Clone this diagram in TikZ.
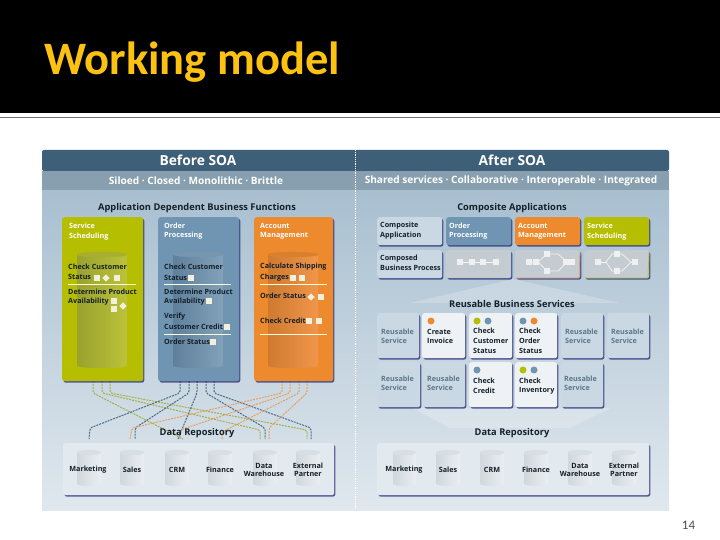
\documentclass[tikz,border=0pt]{standalone}
\usepackage{fontspec}
\setmainfont{Carlito}
\newfontfamily\dia{Open Sans}
\usetikzlibrary{shadows}
\definecolor{hdr}{HTML}{3D5F78}
\definecolor{sub}{HTML}{879FAE}
\definecolor{pantop}{HTML}{A8BFD0}
\definecolor{panbot}{HTML}{E0E8EE}
\definecolor{grn}{HTML}{B5BE00}
\definecolor{blu}{HTML}{6F95B2}
\definecolor{org}{HTML}{EE8A2E}
\definecolor{pale}{HTML}{C9D8E3}
\definecolor{paler}{HTML}{EEF2F5}
\definecolor{repo}{HTML}{E3EAEF}
\definecolor{proc}{HTML}{C4CCD2}
\definecolor{ink}{HTML}{14202A}
\definecolor{cg}{HTML}{A3B04A}
\definecolor{cb}{HTML}{4A6A84}
\definecolor{co}{HTML}{E8A060}
\definecolor{markc}{HTML}{F0F0DC}
\definecolor{cyga}{HTML}{99A22E}\definecolor{cygb}{HTML}{BCC23A}\definecolor{cygt}{HTML}{A7AE30}
\definecolor{cyba}{HTML}{5F7F9B}\definecolor{cybb}{HTML}{82A2BA}\definecolor{cybt}{HTML}{7795AC}
\definecolor{cyoa}{HTML}{CF7A30}\definecolor{cyob}{HTML}{F0964A}\definecolor{cyot}{HTML}{D9802F}
\definecolor{cyra}{HTML}{D0D8DD}\definecolor{cyrb}{HTML}{EAEEF1}\definecolor{cyrt}{HTML}{D8DFE4}
\newcounter{tn}
\tikzset{
  x=1pt,y=-1pt,
  box/.style={draw=none,rounded corners=2.5pt,anchor=north west,inner sep=0pt,
    drop shadow={shadow xshift=1.2pt,shadow yshift=-1.5pt,fill=black!65!blue,opacity=.6}},
  lab/.style={anchor=west,inner sep=0pt,font=\dia\bfseries\fontsize{7.2}{8}\selectfont,text=ink},
  wlab/.style={lab,text=white},
  glab/.style={lab,text=hdr!85!white,font=\dia\fontsize{7.2}{8}\selectfont\bfseries},
  head/.style={anchor=center,inner sep=0pt,font=\dia\bfseries\fontsize{9.3}{11}\selectfont,text=ink},
  bighead/.style={anchor=center,inner sep=0pt,text=white,font=\dia\bfseries\fontsize{13.8}{16}\selectfont},
  subhead/.style={anchor=center,inner sep=0pt,text=white,font=\dia\bfseries\fontsize{10.1}{12}\selectfont},
  ctr/.style={lab,anchor=center,align=center},
  conng/.style={draw=cg,dash pattern=on 2pt off 1pt,line width=1pt,rounded corners=2pt},
  connb/.style={draw=cb,dash pattern=on 2pt off 1pt,line width=1pt,rounded corners=2pt},
  conno/.style={draw=co,dash pattern=on 2pt off 1pt,line width=1pt,rounded corners=2pt},
  sq/.style={fill=markc,draw=none,minimum size=5.8pt,inner sep=0pt,anchor=center},
  dmd/.style={fill=markc,draw=none,minimum size=5.2pt,inner sep=0pt,anchor=center,rotate=45},
  rule/.style={white!85!yellow,line width=.7pt},
  dot/.style={circle,minimum size=7pt,inner sep=0pt,draw=none,anchor=center},
  wire/.style={draw=white!92!gray,line width=.7pt},
  glyph/.style={fill=white!88!gray,draw=none,minimum size=5.5pt,inner sep=0pt,anchor=center},
}
\newcommand\bx[6]{\node[box,fill=#6,minimum width=#4 pt-#2 pt,minimum height=#5 pt-#3 pt] (#1) at (#2,#3) {};}
\newcommand\lb[4][lab]{\stepcounter{tn}\node[#1] (t\thetn) at (#2,#3) {#4};}
\newcommand\mk[3][sq]{\stepcounter{tn}\node[#1] (t\thetn) at (#2,#3) {};}
\newcommand\cyl[7]{%
  \path[left color=#5,right color=#6] (#1,#3+3.5) -- (#1,#4-3.5)
    .. controls (#1,#4) and (#2,#4) .. (#2,#4-3.5) -- (#2,#3+3.5)
    .. controls (#2,#3+7) and (#1,#3+7) .. (#1,#3+3.5) -- cycle;
  \path[fill=#7] (#1,#3+3.5) .. controls (#1,#3) and (#2,#3) .. (#2,#3+3.5)
    .. controls (#2,#3+7) and (#1,#3+7) .. (#1,#3+3.5) -- cycle;}
\begin{document}
\begin{tikzpicture}
\useasboundingbox (0,0) rectangle (720,540);
\fill[white] (0,0) rectangle (720,540);
\fill[black] (0,0) rectangle (720,113);
\draw[black!55,line width=.9pt] (0,117) -- (720,117);
\node[anchor=west,inner sep=0pt,text={rgb,255:red,253;green,194;blue,17},font=\bfseries\fontsize{46.5}{50}\selectfont] (title) at (44,62) {Working model};
\node[anchor=center,inner sep=0pt,text=black!70,font=\fontsize{13}{15}\selectfont] (pageno) at (688.5,525) {14};
% panel
\path[top color=pantop,bottom color=panbot] (42,190) rectangle (669,510);
\fill[hdr,rounded corners=2pt] (42,171) -- (42,150) -- (669,150) -- (669,171) -- cycle;
\fill[sub] (42,171) rectangle (669,190);
\draw[white,densely dotted,line width=.8pt] (355,150) -- (355,510);
\node[bighead] (before) at (198,160.5) {Before SOA};
\node[bighead] (after) at (512,160.5) {After SOA};
\node[subhead] (subl) at (196,181) {Siloed · Closed · Monolithic · Brittle};
\node[subhead] (subr) at (511,181) {Shared services · Collaborative · Interoperable · Integrated};
% pale fans
\fill[white,opacity=.22] (513,279) -- (410,303) -- (620,303) -- cycle;
\fill[white,opacity=.22] (413,408) -- (610,408) -- (570,428) -- (450,428) -- cycle;
% connector ends
\foreach \n/\x/\y in {g1/93/381,g2/102/381,g3/110/381,b1/180/381,b2/189/381,b3/197/381,b4/206/381,b5/214/381,o1/282/381,o2/290/381,o3/299/381,o4/307/381,
  em/89/439,es1/130/439,es2/135/439,ec1/178/439,ec2/180/439,ec3/183/439,ef/222/439,ew1/260/439,ew2/265/439,ew3/269/439,ex1/307/439,ex2/311/439}
  {\coordinate (\n) at (\x,\y);}
\draw[conng] (g1) -- +(0,12) -- (ec3);
\draw[conng] (g2) -- +(0,12) -- (260,430) -- (ew1);
\draw[conng] (g3) -- +(0,12) -- (307,430) -- (ex1);
\draw[connb] (b1) -- +(0,12) -- (90,428) -- (em);
\draw[connb] (b2) -- +(0,12) -- (135,428) -- (es2);
\draw[connb] (b3) -- +(0,12) -- (ec1);
\draw[connb] (b4) -- +(0,12) -- (265,428) -- (ew2);
\draw[connb] (b5) -- +(0,12) -- (311,428) -- (ex2);
\draw[conno] (o1) -- +(0,12) -- (132,428) -- (es1);
\draw[conno] (o2) -- +(0,12) -- (180,430) -- (ec2);
\draw[conno] (o3) -- +(0,12) -- (222,432) -- (ef);
\draw[conno] (o4) -- +(0,12) -- (269,428) -- (ew3);
% left boxes
\bx{lg}{62}{217}{143}{381}{grn}
\bx{lb}{158}{217}{239}{381}{blu}
\bx{lo}{254}{217}{333}{381}{org}
\cyl{77}{127}{251}{369}{cyga}{cygb}{cygt}
\cyl{173}{223}{251}{369}{cyba}{cybb}{cybt}
\cyl{268}{318}{251}{369}{cyoa}{cyob}{cyot}
\draw[rule] (68,284) -- (136,284);
\draw[rule] (164,284) -- (231,284);
\draw[rule] (164,334) -- (231,334);
\draw[rule] (260,284) -- (327,284);
\draw[rule] (260,334) -- (327,334);
\node[head] (hl) at (197,208) {Application Dependent Business Functions};
\lb[wlab]{69}{226}{Service}\lb[wlab]{69}{237}{Scheduling}
\lb{68}{267}{Check Customer}\lb{68}{277}{Status}
\lb{68}{292}{Determine Product}\lb{68}{302}{Availability}
\mk{97}{278}\mk[dmd]{106}{278}\mk{117}{278}
\mk{114}{301}\mk{114}{309}\mk[dmd]{123}{306}
\lb[wlab]{164}{226}{Order}\lb[wlab]{164}{236}{Processing}
\lb{164}{267}{Check Customer}\lb{164}{278}{Status}
\lb{164}{292}{Determine Product}\lb{164}{302}{Availability}
\lb{164}{317}{Verify}\lb{164}{327}{Customer Credit}\lb{164}{342}{Order Status}
\mk{191}{278}\mk{209}{301}\mk{227}{327}\mk{213}{342}
\lb[wlab]{260}{226}{Account}\lb[wlab]{260}{236}{Management}
\lb{260}{267}{Calculate Shipping}\lb{260}{278}{Charges}
\lb{260}{296}{Order Status}\lb{260}{321}{Check Credit}
\mk{293}{278}\mk{302}{278}\mk[dmd]{311}{297}\mk{321}{297}\mk{309}{321}\mk{319}{321}
% left repo
\node[head] (dl) at (197,433.5) {Data Repository};
\bx{rl}{63}{443}{334}{495}{repo}
\foreach \a/\b in {77/101,120/144,165/189,208/232,253/277,296/320}
  {\cyl{\a}{\b}{449}{487}{cyra}{cyrb}{cyrt}}
\lb[ctr]{88}{470}{Marketing}\lb[ctr]{132}{470}{Sales}\lb[ctr]{177}{470}{CRM}\lb[ctr]{220}{470}{Finance}
\lb[ctr]{264}{470}{Data\\[-.5pt]Warehouse}\lb[ctr]{308}{470}{External\\[-.5pt]Partner}
% right repo
\node[head] (dr) at (512,433.5) {Data Repository};
\bx{rr}{377}{443}{649}{495}{repo}
\foreach \a/\b in {393/416,436/460,480/504,524/548,568/592,612/636}
  {\cyl{\a}{\b}{449}{487}{cyra}{cyrb}{cyrt}}
\lb[ctr]{404}{470}{Marketing}\lb[ctr]{448}{470}{Sales}\lb[ctr]{492}{470}{CRM}\lb[ctr]{536}{470}{Finance}
\lb[ctr]{580}{470}{Data\\[-.5pt]Warehouse}\lb[ctr]{624}{470}{External\\[-.5pt]Partner}
% right top
\node[head] (hr) at (512,208) {Composite Applications};
\bx{ca}{377}{217}{442}{245}{pale}
\bx{cb1}{446}{217}{511}{245}{blu}
\bx{cb2}{515}{217}{580}{245}{org}
\bx{cb3}{584}{217}{649}{245}{grn}
\bx{cp}{377}{250}{442}{278}{pale}
\bx{p1}{446}{250}{511}{278}{proc}
\bx{p2}{515}{250}{580}{278}{proc}
\bx{p3}{584}{250}{649}{278}{proc}
\draw[org!60!proc,line width=.8pt] (516,278) -- (579,278) -- (580,252);
\draw[grn!70!proc,line width=.8pt] (585,278) -- (648,278) -- (649,252);
\lb{380}{226}{Composite}\lb{380}{236}{Application}
\lb[wlab]{449}{226}{Order}\lb[wlab]{449}{236}{Processing}
\lb[wlab]{518}{226}{Account}\lb[wlab]{518}{236}{Management}
\lb[wlab]{587}{226}{Service}\lb[wlab]{587}{237}{Scheduling}
\lb{380}{259}{Composed}\lb{380}{268}{Business Process}
% process glyphs
\draw[wire] (460,262) -- (496,262);
\draw[wire] (528,262) -- (571,262);
\draw[wire] (597,262) -- (636,262);
\draw[wire,fill=proc] (538,262) -- (547,254) -- (558,254) -- (567,262) -- (558,271) -- (547,271) -- cycle;
\draw[wire,fill=proc] (606,262) -- (612,254) -- (622,254) -- (631,262) -- (622,271) -- (612,271) -- cycle;
\foreach \x in {460,472,483,496}{\mk[glyph]{\x}{262}}
\foreach \x/\y in {529/262,536/262,547/254,547/271,566/262,572/262}{\mk[glyph]{\x}{\y}}
\foreach \x/\y in {598/262,617/254,617/271,635/262}{\mk[glyph]{\x}{\y}}
\node[head] (hs) at (512,304) {Reusable Business Services};
% services
\foreach \n/\a/\b/\f in {s1/377/419/pale,s2/422/465/paler,s3/469/512/paler,s4/515/557/paler,s5/561/603/pale,s6/607/649/pale}
  {\bx{\n}{\a}{313}{\b}{358}{\f}}
\foreach \n/\a/\b/\f in {u1/377/420/pale,u2/423/465/pale,u3/469/512/paler,u4/515/557/paler,u5/561/603/pale}
  {\bx{\n}{\a}{362}{\b}{407}{\f}}
\foreach \x/\c in {431/org,477/grn,488/blu,523/blu,534/org}{\stepcounter{tn}\node[dot,fill=\c] (t\thetn) at (\x,321) {};}
\foreach \x/\c in {477/blu,523/grn,534/blu}{\stepcounter{tn}\node[dot,fill=\c] (t\thetn) at (\x,370) {};}
\lb[glab]{381}{332}{Reusable}\lb[glab]{381}{341}{Service}
\lb{427}{332}{Create}\lb{427}{341}{Invoice}
\lb{473}{331}{Check}\lb{473}{341}{Customer}\lb{473}{351}{Status}
\lb{519}{331}{Check}\lb{519}{341}{Order}\lb{519}{351}{Status}
\lb[glab]{565}{332}{Reusable}\lb[glab]{565}{341}{Service}
\lb[glab]{611}{332}{Reusable}\lb[glab]{611}{341}{Service}
\lb[glab]{381}{379}{Reusable}\lb[glab]{381}{388}{Service}
\lb[glab]{427}{379}{Reusable}\lb[glab]{427}{388}{Service}
\lb{473}{381}{Check}\lb{473}{391}{Credit}
\lb{519}{381}{Check}\lb{519}{391}{Inventory}
\lb[glab]{564}{379}{Reusable}\lb[glab]{564}{388}{Service}
\end{tikzpicture}
\end{document}
